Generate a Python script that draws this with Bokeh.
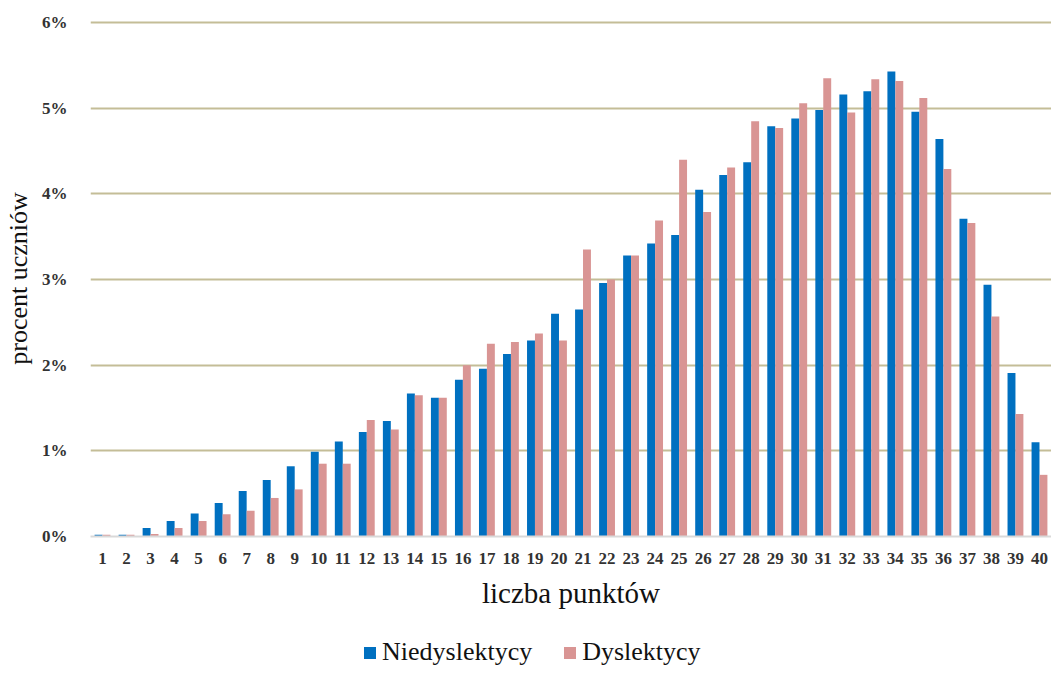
from bokeh.plotting import figure
from bokeh.models import ColumnDataSource, FixedTicker, PrintfTickFormatter, Legend, LegendItem, Range1d
from bokeh.layouts import column
from bokeh.transform import dodge
from bokeh.embed import file_html
from bokeh.resources import INLINE

points = list(range(1, 41))
tick_labels = [str(i) for i in points]
niedyslektycy = [0.02, 0.02, 0.10, 0.18, 0.27, 0.39, 0.53, 0.66, 0.82, 0.99,
                 1.11, 1.22, 1.35, 1.67, 1.62, 1.83, 1.96, 2.13, 2.29, 2.60,
                 2.65, 2.96, 3.28, 3.42, 3.52, 4.05, 4.22, 4.37, 4.79, 4.88,
                 4.98, 5.16, 5.20, 5.43, 4.96, 4.64, 3.71, 2.94, 1.91, 1.10]
dyslektycy = [0.02, 0.02, 0.03, 0.10, 0.18, 0.26, 0.30, 0.45, 0.55, 0.85,
              0.85, 1.36, 1.25, 1.65, 1.62, 2.00, 2.25, 2.27, 2.37, 2.29,
              3.35, 3.00, 3.28, 3.69, 4.40, 3.79, 4.31, 4.85, 4.77, 5.06,
              5.35, 4.95, 5.34, 5.32, 5.12, 4.29, 3.66, 2.57, 1.43, 0.72]
series_names = ["Niedyslektycy", "Dyslektycy"]
y_ticks = [0, 1, 2, 3, 4, 5, 6]

src = ColumnDataSource(dict(x=points, a=niedyslektycy, b=dyslektycy))

SERIF = "Liberation Serif"
BLUE = "#0070C0"
PINK = "#D99594"

p = figure(width=1051, height=612, output_backend="svg", toolbar_location=None,
           x_range=Range1d(0.5, 40.5), y_range=Range1d(0, 6.025),
           min_border_left=85, min_border_right=0, min_border_top=20, min_border_bottom=76)
p.outline_line_color = None
p.background_fill_color = "white"

r1 = p.vbar(x=dodge("x", -0.165, range=p.x_range), top="a", width=0.33, source=src,
            fill_color=BLUE, line_color=None)
r2 = p.vbar(x=dodge("x", 0.165, range=p.x_range), top="b", width=0.33, source=src,
            fill_color=PINK, line_color=None)

p.xaxis.ticker = FixedTicker(ticks=points)
p.xaxis.major_label_overrides = {i: s for i, s in zip(points, tick_labels)}
p.yaxis.ticker = FixedTicker(ticks=y_ticks)
p.yaxis.formatter = PrintfTickFormatter(format="%d%%")

for ax in (p.xaxis[0], p.yaxis[0]):
    ax.major_tick_line_color = None
    ax.minor_tick_line_color = None
    ax.major_label_text_font = SERIF
    ax.major_label_text_font_style = "bold"
    ax.major_label_text_font_size = "17px"
    ax.major_label_text_color = "#333333"
    ax.axis_label_text_font = SERIF
    ax.axis_label_text_font_style = "normal"
    ax.axis_label_text_color = "#111111"

p.xaxis.axis_label = "liczba punktów"
p.xaxis.axis_label_text_font_size = "29px"
p.xaxis.major_label_standoff = 10
p.xaxis.axis_label_standoff = 10
p.xaxis.axis_line_color = "#D9D9D9"
p.xaxis.axis_line_width = 2

p.yaxis.axis_label = "procent uczniów"
p.yaxis.axis_label_text_font_size = "26px"
p.yaxis.major_label_standoff = 17
p.yaxis.axis_label_standoff = 6
p.yaxis.axis_line_color = None

p.xgrid.grid_line_color = None
p.ygrid.grid_line_color = "#C4BD97"
p.ygrid.grid_line_width = 2

# legend strip below the chart (its frame is aligned with the chart's frame)
pl = figure(width=1051, height=55, output_backend="svg", toolbar_location=None,
            x_range=Range1d(0, 1), y_range=Range1d(0, 1),
            x_axis_location=None, y_axis_location=None, min_border=0)
pl.outline_line_color = None
pl.xgrid.grid_line_color = None
pl.ygrid.grid_line_color = None
key_src = ColumnDataSource(dict(x=[5], top=[5]))
l1 = pl.vbar(x="x", top="top", width=0.1, source=key_src, fill_color=BLUE, line_color=None)
l2 = pl.vbar(x="x", top="top", width=0.1, source=key_src, fill_color=PINK, line_color=None)
legend = Legend(items=[LegendItem(label=series_names[0], renderers=[l1]),
                       LegendItem(label=series_names[1], renderers=[l2])],
                orientation="horizontal", location=(272, 0),
                label_text_font=SERIF, label_text_font_size="26px", label_text_color="#111111",
                glyph_width=15, glyph_height=15, label_standoff=5, spacing=30,
                padding=0, margin=0, border_line_color=None, background_fill_alpha=0)
pl.add_layout(legend, "center")

layout = column(p, pl, spacing=0)
open("out.html", "w").write(file_html(layout, INLINE))
